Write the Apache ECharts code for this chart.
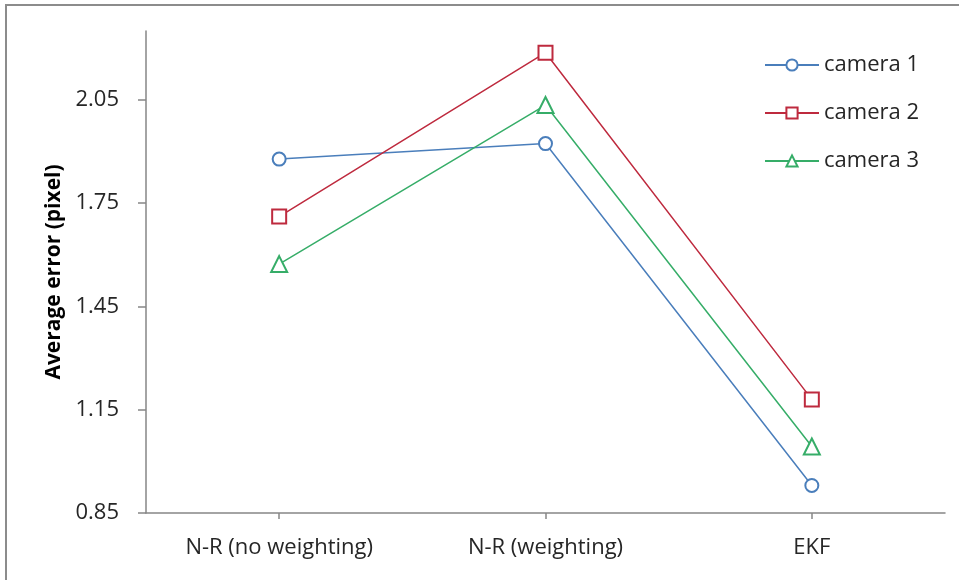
<!DOCTYPE html>
<html>
<head>
<meta charset="utf-8">
<script src="https://cdn.jsdelivr.net/npm/echarts@6/dist/echarts.min.js"></script>
<style>html,body{margin:0;padding:0;background:#fff;}#c{width:959px;height:580px;}</style>
</head>
<body>
<div id="c"></div>
<script>
var categories = ['N-R (no weighting)', 'N-R (weighting)', 'EKF'];
var camera1 = [1.878, 1.923, 0.930];
var camera2 = [1.711, 2.187, 1.180];
var camera3 = [1.573, 2.035, 1.043];
var yTicks = [0.85, 1.15, 1.45, 1.75, 2.05];
var seriesNames = ['camera 1', 'camera 2', 'camera 3'];

var colors = ['#4a7ebb', '#be2a3e', '#36ad68'];
var font = '"Open Sans", sans-serif';
var chart = echarts.init(document.getElementById('c'), null, {renderer: 'canvas'});

function mk(name, data, symbol, color, size) {
  return {
    name: name, type: 'line', data: data,
    symbol: symbol, symbolSize: size,
    lineStyle: {color: color, width: 1.5},
    itemStyle: {color: color, borderColor: color, borderWidth: 1.6},
    emphasis: {disabled: true},
    animation: false
  };
}

chart.setOption({
  backgroundColor: '#ffffff',
  animation: false,
  graphic: [{
    type: 'rect', silent: true,
    shape: {x: 6, y: 5, width: 1100, height: 1100},
    style: {fill: 'none', stroke: '#8c8c8c', lineWidth: 2}
  }],
  grid: {left: 146, right: 14, top: 31, bottom: 67, containLabel: false},
  legend: {
    orient: 'vertical', left: 759, top: 48,
    itemWidth: 54, itemHeight: 14, itemGap: 24,
    textStyle: {fontFamily: font, fontSize: 22, color: '#262626', lineHeight: 24},
    data: seriesNames
  },
  xAxis: {
    type: 'category', data: categories, boundaryGap: true,
    axisLine: {lineStyle: {color: '#868686', width: 1.5}},
    axisTick: {show: true, alignWithLabel: true, length: 6, lineStyle: {color: '#868686', width: 1.5}},
    axisLabel: {fontFamily: font, fontSize: 22, color: '#262626', margin: 24}
  },
  yAxis: {
    type: 'value', min: 0.85, max: 2.25,
    name: 'Average error (pixel)', nameLocation: 'middle', nameGap: 81,
    nameTextStyle: {fontFamily: font, fontSize: 21, fontWeight: 'bold', color: '#000'},
    axisLine: {show: true, lineStyle: {color: '#868686', width: 1.5}},
    axisTick: {show: true, length: 8, customValues: yTicks, lineStyle: {color: '#868686', width: 1.5}},
    axisLabel: {fontFamily: font, fontSize: 22, color: '#262626', margin: 27, customValues: yTicks,
      formatter: function (v) { return v.toFixed(2); }},
    splitLine: {show: false}
  },
  series: [
    mk(seriesNames[0], camera1, 'emptyCircle', colors[0], 13),
    mk(seriesNames[1], camera2, 'emptyRect', colors[1], 14),
    mk(seriesNames[2], camera3, 'emptyTriangle', colors[2], 16)
  ]
});
</script>
</body>
</html>
